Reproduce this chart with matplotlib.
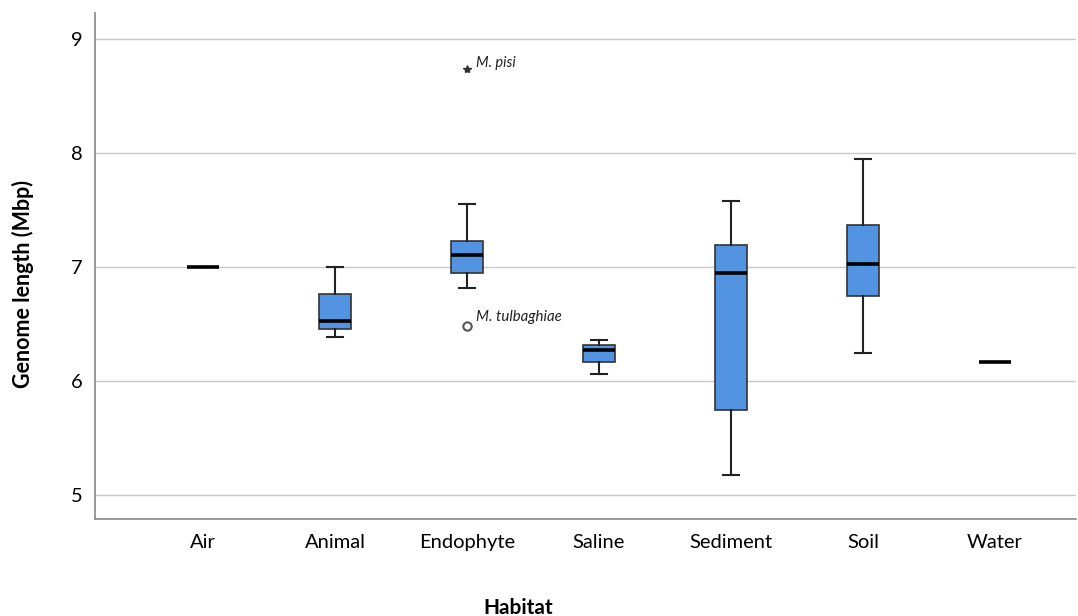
import matplotlib
matplotlib.use("Agg")
import matplotlib.pyplot as plt

plt.rcParams['font.family'] = ['Lato', 'DejaVu Sans']

habitats = ["Air", "Animal", "Endophyte", "Saline", "Sediment", "Soil", "Water"]
whislo = [7.00, 6.39, 6.82, 6.06, 5.18, 6.25, 6.17]
q1     = [7.00, 6.46, 6.95, 6.17, 5.75, 6.75, 6.17]
med    = [7.00, 6.53, 7.11, 6.27, 6.95, 7.03, 6.17]
q3     = [7.00, 6.76, 7.23, 6.32, 7.19, 7.37, 6.17]
whishi = [7.00, 7.00, 7.55, 6.36, 7.58, 7.95, 6.17]

outlier_habitat = "Endophyte"
outlier_value = 6.48
outlier_label = "M. tulbaghiae"
extreme_habitat = "Endophyte"
extreme_value = 8.74
extreme_label = "M. pisi"

yticks = [5, 6, 7, 8, 9]

fig = plt.figure(figsize=(10.78, 6.16), dpi=100)
ax = fig.add_axes([95/1078, 1-519/616, (1076-95)/1078, (519-13)/616])

stats = []
for i, h in enumerate(habitats):
    stats.append(dict(label=h, whislo=whislo[i], q1=q1[i], med=med[i],
                      q3=q3[i], whishi=whishi[i], fliers=[]))

positions = list(range(len(habitats)))
ax.bxp(stats, positions=positions, widths=0.24, capwidths=0.12,
       patch_artist=True, showfliers=False, zorder=3,
       boxprops=dict(facecolor="#5294e2", edgecolor="#333333", linewidth=1.2),
       medianprops=dict(color="black", linewidth=2.6, solid_capstyle="butt"),
       whiskerprops=dict(color="#222222", linewidth=1.5),
       capprops=dict(color="#222222", linewidth=1.5))

xo = habitats.index(outlier_habitat)
ax.plot([xo], [outlier_value], marker='o', markersize=6, markerfacecolor='white',
        markeredgecolor='#555555', markeredgewidth=1.5, linestyle='none', zorder=4)
ax.text(xo + 0.07, outlier_value + 0.025, outlier_label, fontsize=10.8, style='italic',
        ha='left', va='bottom', color='#222222')

xe = habitats.index(extreme_habitat)
ax.plot([xe], [extreme_value], marker='*', markersize=6, color='#333333',
        linestyle='none', zorder=4)
ax.text(xe + 0.07, extreme_value - 0.01, extreme_label, fontsize=10.5, style='italic',
        ha='left', va='bottom', color='#222222')

ax.set_xlim(-0.818, 6.614)
ax.set_ylim(4.79, 9.23)
ax.set_yticks(yticks)
ax.set_yticklabels([str(t) for t in yticks], fontsize=14.5)
ax.set_xticks(positions)
ax.set_xticklabels(habitats, fontsize=14.5)
ax.tick_params(axis='both', length=0)
ax.tick_params(axis='y', pad=9)
ax.tick_params(axis='x', pad=11)

ax.yaxis.grid(True, color='#c8c8c8', linewidth=1.0, zorder=0)
ax.set_axisbelow(True)
for s in ['top', 'right']:
    ax.spines[s].set_visible(False)
for s in ['left', 'bottom']:
    ax.spines[s].set_color('#888888')
    ax.spines[s].set_linewidth(1.2)

fig.text(23/1078, 1-284/616, "Genome length (Mbp)", rotation=90, fontsize=15.5,
         fontweight='bold', ha='center', va='center')
fig.text(518/1078, 1-608/616, "Habitat", fontsize=15, fontweight='bold',
         ha='center', va='center')

fig.savefig("out.png", dpi=100)
